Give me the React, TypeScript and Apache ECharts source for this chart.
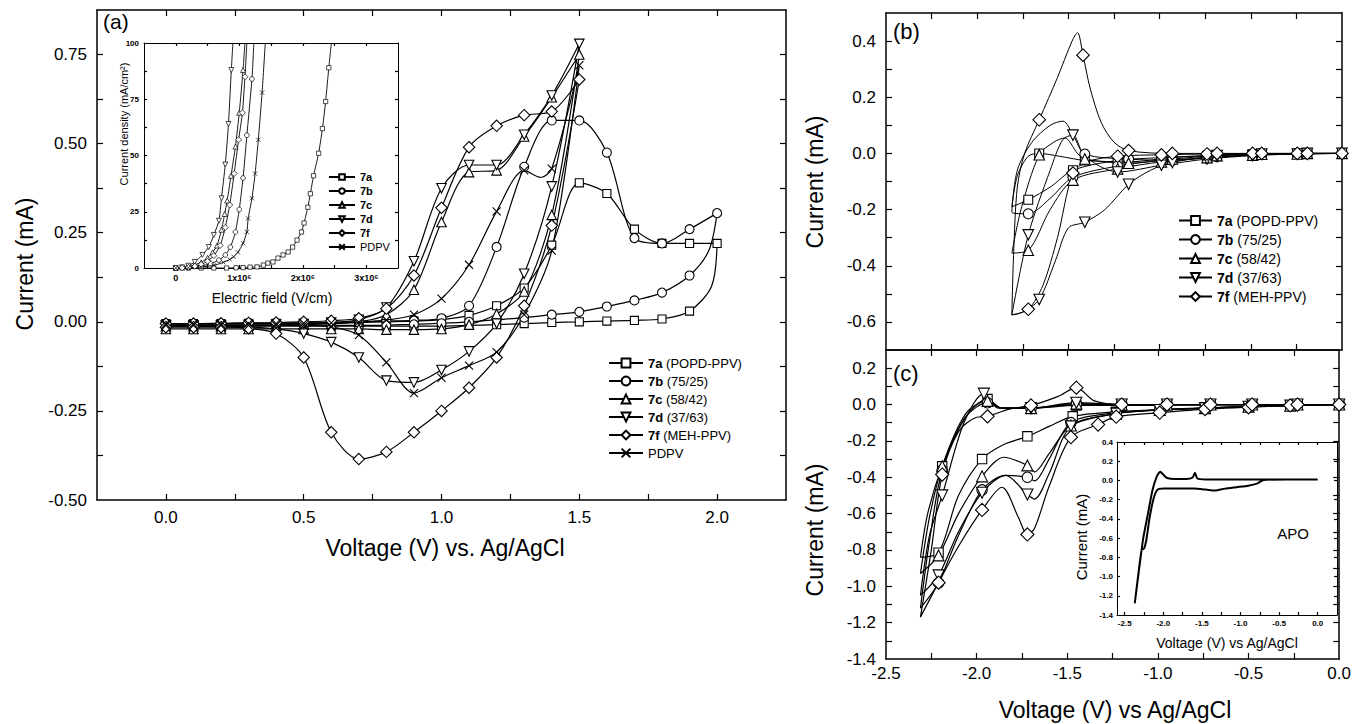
import React, { useEffect, useRef } from 'react';
import * as echarts from 'echarts';

const FONT = '"Liberation Sans", Arial, Helvetica, sans-serif';

// ---------- names ----------
const NAMES = ['7a (POPD-PPV)', '7b (75/25)', '7c (58/42)', '7d (37/63)', '7f (MEH-PPV)', 'PDPV'];
const INSET_NAMES = ['i:7a', 'i:7b', 'i:7c', 'i:7d', 'i:7f', 'i:PDPV'];

// ---------- tick values / labels ----------
const A_X_TICKS = [0, 0.25, 0.5, 0.75, 1, 1.25, 1.5, 1.75, 2];
const A_X_LABELS = [0, 0.5, 1, 1.5, 2];
const A_Y_TICKS = [-0.375, -0.25, -0.125, 0, 0.125, 0.25, 0.375, 0.5, 0.625, 0.75];
const A_Y_LABELS = [-0.5, -0.25, 0, 0.25, 0.5, 0.75];
const IA_X_TICKS = [0, 0.5, 1, 1.5, 2, 2.5, 3];
const IA_X_LABELS = [0, 1, 2, 3];
const IA_Y_TICKS = [12.5, 25, 37.5, 50, 62.5, 75, 87.5];
const IA_Y_LABELS = [0, 25, 50, 75, 100];
const BC_X_TICKS = [-2.25, -2, -1.75, -1.5, -1.25, -1, -0.75, -0.5, -0.25];
const BC_X_LABELS = [-2.5, -2, -1.5, -1, -0.5, 0];
const B_Y_TICKS = [-0.6, -0.5, -0.4, -0.3, -0.2, -0.1, 0, 0.1, 0.2, 0.3, 0.4];
const B_Y_LABELS = [-0.6, -0.4, -0.2, 0, 0.2, 0.4];
const C_Y_TICKS = [-1.3, -1.2, -1.1, -1, -0.9, -0.8, -0.7, -0.6, -0.5, -0.4, -0.3, -0.2, -0.1, 0, 0.1, 0.2];
const C_Y_LABELS = [-1.4, -1.2, -1, -0.8, -0.6, -0.4, -0.2, 0, 0.2];
const IC_X_TICKS = [-2.5, -2.25, -2, -1.75, -1.5, -1.25, -1, -0.75, -0.5, -0.25, 0];
const IC_X_LABELS = [-2.5, -2, -1.5, -1, -0.5, 0];
const IC_Y_TICKS = [-1.2, -1, -0.8, -0.6, -0.4, -0.2, 0, 0.2];
const IC_Y_LABELS = [-1.4, -1.2, -1, -0.8, -0.6, -0.4, -0.2, 0, 0.2, 0.4];

// ---------- panel (a): [V, mA] (third value 0 = no marker) ----------
const a7a = [
  [0, -0.005], [0.1, -0.005], [0.2, -0.005], [0.3, -0.004], [0.4, -0.004], [0.5, -0.004], [0.6, -0.003], [0.7, -0.002],
  [0.8, 0], [0.9, 0.002], [1.0, 0.006], [1.1, 0.018], [1.2, 0.045], [1.3, 0.095], [1.4, 0.215], [1.5, 0.39], [1.6, 0.36],
  [1.7, 0.26], [1.8, 0.22], [1.9, 0.22], [2.0, 0.22],
  [1.98, 0.1, 0], [1.9, 0.03], [1.8, 0.008], [1.7, 0.004], [1.6, 0.002], [1.5, 0], [1.4, -0.002], [1.3, -0.005], [1.2, -0.008],
  [1.1, -0.01], [1.0, -0.012], [0.9, -0.012], [0.8, -0.012], [0.7, -0.012], [0.6, -0.012], [0.5, -0.012], [0.4, -0.012],
  [0.3, -0.012], [0.2, -0.012], [0.1, -0.012], [0, -0.012],
];
const a7b = [
  [0, -0.005], [0.1, -0.005], [0.2, -0.005], [0.3, -0.004], [0.4, -0.004], [0.5, -0.003], [0.6, -0.002], [0.7, 0],
  [0.8, 0.002], [0.9, 0.004], [1.0, 0.01], [1.1, 0.045], [1.2, 0.21], [1.3, 0.435], [1.4, 0.565], [1.5, 0.565], [1.6, 0.475],
  [1.7, 0.235], [1.8, 0.22], [1.9, 0.26], [2.0, 0.305],
  [1.97, 0.2, 0], [1.9, 0.13], [1.8, 0.082], [1.7, 0.06], [1.6, 0.043], [1.5, 0.028], [1.4, 0.02], [1.3, 0.012], [1.2, 0.006],
  [1.1, 0], [1.0, -0.004], [0.9, -0.007], [0.8, -0.009], [0.7, -0.01], [0.6, -0.01], [0.5, -0.01], [0.4, -0.01], [0.3, -0.01],
  [0.2, -0.01], [0.1, -0.01], [0, -0.01],
];
const a7c = [
  [0, -0.012], [0.1, -0.012], [0.2, -0.012], [0.3, -0.011], [0.4, -0.01], [0.5, -0.008], [0.6, -0.005], [0.7, 0],
  [0.8, 0.02], [0.9, 0.09], [1.0, 0.28], [1.1, 0.42], [1.2, 0.425], [1.3, 0.52], [1.4, 0.63], [1.5, 0.75],
  [1.4, 0.3], [1.3, 0.085], [1.2, 0.022], [1.1, -0.008], [1.0, -0.02], [0.9, -0.022], [0.8, -0.022], [0.7, -0.02],
  [0.6, -0.02], [0.5, -0.02], [0.4, -0.02], [0.3, -0.02], [0.2, -0.02], [0.1, -0.02], [0, -0.02],
];
const a7d = [
  [0, -0.01], [0.1, -0.01], [0.2, -0.01], [0.3, -0.009], [0.4, -0.008], [0.5, -0.006], [0.6, -0.002], [0.7, 0.006],
  [0.8, 0.04], [0.9, 0.17], [1.0, 0.375], [1.1, 0.44], [1.2, 0.44], [1.3, 0.525], [1.4, 0.635], [1.5, 0.78],
  [1.4, 0.38], [1.3, 0.135], [1.2, -0.005], [1.1, -0.083], [1.0, -0.135], [0.9, -0.17], [0.8, -0.165], [0.7, -0.1],
  [0.6, -0.057], [0.5, -0.033], [0.4, -0.02], [0.3, -0.015], [0.2, -0.013], [0.1, -0.012], [0, -0.012],
];
const a7f = [
  [0, -0.005], [0.1, -0.005], [0.2, -0.004], [0.3, -0.003], [0.4, -0.002], [0.5, 0], [0.6, 0.003], [0.7, 0.01],
  [0.8, 0.037], [0.9, 0.13], [1.0, 0.32], [1.1, 0.49], [1.2, 0.55], [1.3, 0.58], [1.4, 0.59], [1.5, 0.68],
  [1.4, 0.27], [1.3, 0.045], [1.2, -0.1], [1.1, -0.185], [1.0, -0.25], [0.9, -0.31], [0.8, -0.365], [0.7, -0.385],
  [0.6, -0.31], [0.5, -0.1], [0.4, -0.033], [0.3, -0.018], [0.2, -0.015], [0.1, -0.015], [0, -0.015],
];
const aPDPV = [
  [0, -0.006], [0.1, -0.006], [0.2, -0.006], [0.3, -0.005], [0.4, -0.005], [0.5, -0.004], [0.6, -0.003], [0.7, -0.001],
  [0.8, 0.005], [0.9, 0.02], [1.0, 0.065], [1.1, 0.16], [1.2, 0.31], [1.3, 0.425], [1.36, 0.405, 0], [1.4, 0.43], [1.5, 0.72],
  [1.4, 0.2], [1.3, 0.02], [1.2, -0.085], [1.1, -0.123], [1.0, -0.157], [0.9, -0.2], [0.8, -0.114], [0.7, -0.037],
  [0.6, -0.014], [0.5, -0.01], [0.4, -0.01], [0.3, -0.01], [0.2, -0.01], [0.1, -0.01], [0, -0.01],
];

// ---------- inset (a): [field 1e6 V/cm, mA/cm2] ----------
const ia7a = [
  [0, 0], [0.2, 0], [0.4, 0], [0.6, 0], [0.8, 0], [0.95, 0.1], [1.06, 0.2], [1.17, 0.4], [1.28, 0.5], [1.38, 1.3], [1.45, 2.2],
  [1.53, 2.7], [1.61, 4.4], [1.69, 5.8], [1.77, 7.1], [1.84, 9.3], [1.91, 12.4], [1.98, 16], [2.02, 20], [2.08, 27],
  [2.12, 33], [2.17, 41], [2.25, 51], [2.31, 62], [2.36, 74], [2.41, 89], [2.45, 100, 0],
];
const ia7b = [
  [0, 0], [0.2, 0.2], [0.4, 0.8], [0.55, 2], [0.68, 3.5], [0.78, 5.8], [0.86, 9.3], [0.94, 16], [1.0, 26], [1.06, 40],
  [1.12, 59], [1.2, 84], [1.23, 100, 0],
];
const ia7c = [
  [0, 0], [0.1, 0.2], [0.2, 0.6], [0.3, 1.5], [0.4, 2.5], [0.5, 4.5], [0.58, 7], [0.65, 10], [0.72, 17], [0.77, 24],
  [0.81, 30], [0.87, 41], [0.94, 54], [1.0, 69], [1.06, 88], [1.09, 100, 0],
];
const ia7d = [
  [0, 0], [0.1, 0.3], [0.2, 1], [0.3, 2.7], [0.42, 5.8], [0.52, 9.3], [0.6, 14.7], [0.68, 21], [0.72, 31], [0.78, 46],
  [0.83, 64], [0.875, 88], [0.9, 100, 0],
];
const ia7f = [
  [0, 0], [0.1, 0.1], [0.2, 0.3], [0.3, 0.8], [0.4, 1.6], [0.5, 3], [0.6, 5.5], [0.7, 10], [0.78, 18], [0.85, 28],
  [0.92, 42], [0.99, 57], [1.05, 69], [1.09, 85], [1.12, 100, 0],
];
const iaPDPV = [
  [0, 0], [0.2, 0.1], [0.4, 0.4], [0.6, 1.2], [0.75, 2.5], [0.85, 3.8], [0.91, 5], [0.98, 7], [1.06, 11], [1.12, 16],
  [1.14, 22], [1.2, 31], [1.25, 42], [1.3, 57], [1.36, 78], [1.41, 100, 0],
];

// ---------- panel (b): [V, mA] ----------
const b7a = [
  [0, 0], [-0.245, 0], [-0.49, -0.003], [-0.74, -0.008], [-0.99, -0.015], [-1.23, -0.025], [-1.475, -0.06], [-1.6, -0.12, 0],
  [-1.72, -0.165], [-1.81, -0.19, 0],
  [-1.78, -0.08, 0], [-1.72, -0.01, 0], [-1.66, 0], [-1.55, -0.01, 0], [-1.41, -0.025], [-1.17, -0.03], [-0.93, -0.015],
  [-0.685, -0.006], [-0.44, -0.002], [-0.19, 0], [0, 0, 0],
];
const b7b = [
  [0, 0], [-0.245, -0.002], [-0.49, -0.005], [-0.74, -0.017], [-0.99, -0.025], [-1.23, -0.045], [-1.475, -0.085],
  [-1.6, -0.16, 0], [-1.72, -0.215], [-1.81, -0.21, 0],
  [-1.78, -0.06, 0], [-1.7, 0.04, 0], [-1.6, 0.1, 0], [-1.53, 0.115, 0], [-1.47, 0.06, 0], [-1.41, -0.002], [-1.17, -0.02],
  [-0.93, -0.025], [-0.685, -0.012], [-0.44, -0.004], [-0.19, 0], [0, 0, 0],
];
const b7c = [
  [0, 0], [-0.245, -0.002], [-0.49, -0.006], [-0.74, -0.015], [-0.99, -0.03], [-1.23, -0.055], [-1.475, -0.095],
  [-1.6, -0.2, 0], [-1.72, -0.345], [-1.81, -0.355, 0],
  [-1.76, -0.2, 0], [-1.66, -0.005], [-1.58, 0.04, 0], [-1.52, 0.055, 0], [-1.45, 0, 0], [-1.41, -0.02], [-1.17, -0.035],
  [-0.93, -0.02], [-0.685, -0.008], [-0.44, -0.003], [-0.19, 0], [0, 0, 0],
];
const b7d = [
  [0, 0], [-0.19, 0], [-0.44, -0.002], [-0.685, -0.008], [-0.93, -0.032], [-1.05, -0.06, 0], [-1.17, -0.11], [-1.3, -0.2, 0],
  [-1.41, -0.245], [-1.5, -0.265, 0], [-1.57, -0.38, 0], [-1.66, -0.52], [-1.75, -0.565, 0], [-1.81, -0.575, 0],
  [-1.72, -0.29], [-1.6, -0.06, 0], [-1.53, 0.05, 0], [-1.475, 0.065], [-1.42, 0, 0], [-1.33, -0.045, 0], [-1.23, -0.066],
  [-0.99, -0.042], [-0.74, -0.02], [-0.49, -0.008], [-0.245, -0.002], [0, 0, 0],
];
const b7f = [
  [0, 0], [-0.245, 0], [-0.49, 0], [-0.74, -0.002], [-0.99, -0.005], [-1.23, -0.01], [-1.4, -0.03, 0], [-1.475, -0.07],
  [-1.56, -0.3, 0], [-1.64, -0.47, 0], [-1.72, -0.555], [-1.81, -0.575, 0],
  [-1.8, -0.35, 0], [-1.78, -0.12, 0], [-1.74, 0, 0], [-1.66, 0.12], [-1.56, 0.27, 0], [-1.48, 0.4, 0], [-1.45, 0.43, 0],
  [-1.42, 0.35], [-1.38, 0.23, 0], [-1.32, 0.11, 0], [-1.25, 0.04, 0], [-1.17, 0.01], [-0.93, 0], [-0.685, 0], [-0.44, 0],
  [-0.19, 0], [0, 0, 0],
];

// ---------- panel (c): [V, mA] ----------
const c7a = [
  [0, 0], [-0.27, -0.005], [-0.5, -0.01], [-0.74, -0.018], [-0.99, -0.028], [-1.23, -0.04], [-1.47, -0.065], [-1.6, -0.12, 0],
  [-1.72, -0.175], [-1.85, -0.22, 0], [-1.97, -0.3], [-2.1, -0.5, 0], [-2.21, -0.815], [-2.31, -0.84, 0],
  [-2.27, -0.6, 0], [-2.19, -0.34], [-2.07, -0.08, 0], [-1.94, 0.03], [-1.86, -0.02, 0], [-1.7, -0.02], [-1.45, -0.005],
  [-1.2, -0.005], [-0.95, -0.003], [-0.71, 0], [-0.48, 0], [-0.23, 0], [0, 0, 0],
];
const c7b = [
  [0, 0], [-0.27, -0.006], [-0.5, -0.012], [-0.74, -0.02], [-0.99, -0.03], [-1.23, -0.045], [-1.48, -0.1], [-1.6, -0.3, 0],
  [-1.68, -0.42, 0], [-1.72, -0.4], [-1.84, -0.39, 0], [-1.97, -0.47], [-2.1, -0.72, 0], [-2.21, -0.98], [-2.31, -1.12, 0],
  [-2.26, -0.75, 0], [-2.19, -0.36], [-2.06, -0.07, 0], [-1.94, 0.01], [-1.86, -0.02, 0], [-1.7, -0.02], [-1.45, 0],
  [-1.2, 0], [-0.95, 0], [-0.71, 0], [-0.48, 0], [-0.23, 0], [0, 0, 0],
];
const c7c = [
  [0, 0], [-0.27, -0.006], [-0.5, -0.012], [-0.74, -0.02], [-0.99, -0.03], [-1.23, -0.05], [-1.48, -0.115], [-1.6, -0.27, 0],
  [-1.68, -0.37, 0], [-1.72, -0.335], [-1.85, -0.29, 0], [-1.97, -0.395], [-2.1, -0.6, 0], [-2.21, -0.83], [-2.31, -0.93, 0],
  [-2.26, -0.62, 0], [-2.19, -0.34], [-2.06, -0.05, 0], [-1.94, 0.02], [-1.86, -0.02, 0], [-1.7, -0.02], [-1.45, 0.005],
  [-1.2, 0], [-0.95, 0], [-0.71, 0], [-0.48, 0], [-0.23, 0], [0, 0, 0],
];
const c7d = [
  [0, 0], [-0.27, -0.006], [-0.5, -0.012], [-0.74, -0.02], [-0.99, -0.03], [-1.23, -0.05], [-1.48, -0.12], [-1.6, -0.38, 0],
  [-1.68, -0.52, 0], [-1.72, -0.495], [-1.84, -0.39, 0], [-1.97, -0.485], [-2.1, -0.7, 0], [-2.21, -0.94], [-2.31, -1.05, 0],
  [-2.26, -0.72, 0], [-2.19, -0.5], [-2.07, -0.1, 0], [-1.96, 0.06], [-1.88, -0.02, 0], [-1.7, -0.02], [-1.45, 0.01],
  [-1.2, 0], [-0.95, 0], [-0.71, 0], [-0.48, 0], [-0.23, 0], [0, 0, 0],
];
const c7f = [
  [0, 0], [-0.27, -0.005], [-0.5, -0.015], [-0.74, -0.025], [-0.99, -0.045], [-1.23, -0.067], [-1.33, -0.11], [-1.48, -0.18],
  [-1.6, -0.45, 0], [-1.68, -0.68, 0], [-1.72, -0.715], [-1.77, -0.62, 0], [-1.86, -0.455, 0], [-1.97, -0.58],
  [-2.1, -0.78, 0], [-2.21, -0.98], [-2.31, -1.17, 0],
  [-2.25, -0.8, 0], [-2.19, -0.385], [-2.1, -0.15, 0], [-2.0, -0.07, 0], [-1.94, -0.065], [-1.82, -0.025, 0], [-1.7, -0.005],
  [-1.55, 0.045, 0], [-1.45, 0.093], [-1.35, 0.02, 0], [-1.2, 0], [-0.95, 0], [-0.71, 0], [-0.48, 0], [-0.23, 0], [0, 0, 0],
];

// ---------- inset (c): APO ----------
const icAPO = [
  [0, 0.01], [-0.4, 0.01], [-0.7, 0.005], [-0.78, -0.03], [-0.9, -0.055], [-1.05, -0.07], [-1.2, -0.085], [-1.33, -0.105],
  [-1.45, -0.095], [-1.6, -0.085], [-1.8, -0.085], [-2.0, -0.085], [-2.08, -0.1], [-2.13, -0.2], [-2.18, -0.4],
  [-2.22, -0.62], [-2.25, -0.71], [-2.28, -0.72], [-2.32, -0.95], [-2.37, -1.28], [-2.31, -0.9], [-2.26, -0.6],
  [-2.2, -0.35], [-2.14, -0.1], [-2.08, 0.05], [-2.04, 0.09], [-2.0, 0.06], [-1.95, 0.025], [-1.85, 0.015], [-1.7, 0.015],
  [-1.62, 0.03], [-1.59, 0.08], [-1.56, 0.02], [-1.45, 0.01], [-1.0, 0.01], [-0.5, 0.01], [0, 0.01],
];

const A_DATA = [a7a, a7b, a7c, a7d, a7f, aPDPV];
const IA_DATA = [ia7a, ia7b, ia7c, ia7d, ia7f, iaPDPV];
const B_DATA = [b7a, b7b, b7c, b7d, b7f];
const C_DATA = [c7a, c7b, c7c, c7d, c7f];

const SYMS = [
  { symbol: 'rect', rotate: 0, k: 0.85 },
  { symbol: 'circle', rotate: 0, k: 0.95 },
  { symbol: 'triangle', rotate: 0, k: 1 },
  { symbol: 'triangle', rotate: 180, k: 1 },
  { symbol: 'diamond', rotate: 0, k: 1.2 },
  { symbol: 'path://M0,0L10,10M10,0L0,10', rotate: 0, k: 0.85 },
];

const fix = (v: number, d: number) => {
  const r = Number(v.toFixed(6));
  return (r === 0 ? 0 : r).toFixed(d);
};

function buildOption() {
  const grid: any[] = [];
  const xAxis: any[] = [];
  const yAxis: any[] = [];
  const series: any[] = [];

  const mkAxis = (gridIndex: number, position: string, s: any, labels: boolean) => ({
    type: 'value',
    gridIndex,
    position,
    min: s.min,
    max: s.max,
    axisLine: { show: true, onZero: false, lineStyle: { color: '#000', width: s.lw ?? 1.5 } },
    axisTick: { show: true, inside: true, length: s.tick, customValues: s.ticks, lineStyle: { color: '#000', width: 1.2 } },
    axisLabel: {
      show: labels && !!s.labels,
      customValues: s.labels,
      formatter: s.fmt,
      fontSize: s.fs,
      fontWeight: s.bold ? 'bold' : 'normal',
      fontFamily: FONT,
      color: '#000',
      margin: s.margin,
    },
    splitLine: { show: false },
  });

  const addPanel = (rect: number[], xs: any, ys: any) => {
    const gi = grid.length;
    grid.push({ left: rect[0], top: rect[1], width: rect[2], height: rect[3], containLabel: false });
    const xi = xAxis.length;
    xAxis.push(mkAxis(gi, 'bottom', xs, true));
    xAxis.push(mkAxis(gi, 'top', xs, false));
    const yi = yAxis.length;
    yAxis.push(mkAxis(gi, 'left', ys, true));
    yAxis.push(mkAxis(gi, 'right', ys, false));
    return { xi, yi };
  };

  const PA = addPanel([97, 10, 689, 490],
    { min: -0.25, max: 2.25, ticks: A_X_TICKS, labels: A_X_LABELS, fmt: (v: number) => fix(v, 1), fs: 17, margin: 9, tick: 6 },
    { min: -0.5, max: 0.875, ticks: A_Y_TICKS, labels: A_Y_LABELS, fmt: (v: number) => fix(v, 2), fs: 17, margin: 10, tick: 6 });
  const PIA = addPanel([144, 43, 254, 225],
    { min: -0.5, max: 3.5, ticks: IA_X_TICKS, labels: IA_X_LABELS, fmt: (v: number) => (Math.round(v) === 0 ? '0' : `${Math.round(v)}x10⁶`), fs: 9, bold: true, margin: 5, tick: 3, lw: 1 },
    { min: 0, max: 100, ticks: IA_Y_TICKS, labels: IA_Y_LABELS, fmt: (v: number) => String(Math.round(v)), fs: 8, bold: true, margin: 5, tick: 3, lw: 1 });
  const PB = addPanel([886, 13, 456, 337],
    { min: -2.5, max: 0, ticks: BC_X_TICKS, labels: null, fs: 17, margin: 5, tick: 6 },
    { min: -0.7, max: 0.5, ticks: B_Y_TICKS, labels: B_Y_LABELS, fmt: (v: number) => fix(v, 1), fs: 17, margin: 10, tick: 6 });
  const PC = addPanel([886, 350, 456, 309],
    { min: -2.5, max: 0, ticks: BC_X_TICKS, labels: BC_X_LABELS, fmt: (v: number) => fix(v, 1), fs: 17, margin: 6, tick: 6 },
    { min: -1.4, max: 0.3, ticks: C_Y_TICKS, labels: C_Y_LABELS, fmt: (v: number) => fix(v, 1), fs: 17, margin: 10, tick: 6 });
  const PIC = addPanel([1117, 442, 220, 173],
    { min: -2.6, max: 0.25, ticks: IC_X_TICKS, labels: IC_X_LABELS, fmt: (v: number) => fix(v, 1), fs: 8, bold: true, margin: 4, tick: 3, lw: 1 },
    { min: -1.4, max: 0.4, ticks: IC_Y_TICKS, labels: IC_Y_LABELS, fmt: (v: number) => fix(v, 1), fs: 8, bold: true, margin: 4, tick: 3, lw: 1 });

  const curve = (name: string, pts: number[][], p: any, sym: any, size: number, lw: number, smooth: number, bw = 1.1) => ({
    type: 'line',
    name,
    xAxisIndex: p.xi,
    yAxisIndex: p.yi,
    data: pts.map((q) => (q.length > 2 && q[2] === 0 ? { value: [q[0], q[1]], symbol: 'none' } : [q[0], q[1]])),
    symbol: sym.symbol,
    symbolRotate: sym.rotate,
    symbolSize: size * sym.k,
    showSymbol: true,
    showAllSymbol: true,
    smooth,
    lineStyle: { color: '#000', width: lw },
    itemStyle: { color: '#fff', borderColor: '#000', borderWidth: bw },
    emphasis: { disabled: true },
    silent: true,
    z: 3,
  });

  NAMES.forEach((n, i) => series.push(curve(n, A_DATA[i], PA, SYMS[i], 9.5, 1.2, 0.3)));
  INSET_NAMES.forEach((n, i) => series.push(curve(n, IA_DATA[i], PIA, SYMS[i], 5, 0.9, 0.2, 0.7)));
  NAMES.slice(0, 5).forEach((n, i) => series.push(curve(n, B_DATA[i], PB, SYMS[i], 10.5, 1.0, 0.3)));
  NAMES.slice(0, 5).forEach((n, i) => series.push(curve(n, C_DATA[i], PC, SYMS[i], 11, 1.2, 0.3)));
  series.push({
    type: 'line', name: 'APO', xAxisIndex: PIC.xi, yAxisIndex: PIC.yi, data: icAPO, symbol: 'none', smooth: 0.2,
    lineStyle: { color: '#000', width: 2 }, emphasis: { disabled: true }, silent: true, z: 3,
  });

  const legendFmt = (name: string) => {
    const n = name.replace(/^i:/, '');
    const m = n.match(/^(7[a-f])(.*)$/);
    return m ? `{b|${m[1]}}${m[2]}` : n;
  };
  const mkLegend = (data: string[], left: number, top: number, fs: number, iw: number, ih: number, gap: number, lh: number) => ({
    data,
    left,
    top,
    orient: 'vertical',
    padding: 0,
    itemWidth: iw,
    itemHeight: ih,
    itemGap: gap,
    selectedMode: false,
    formatter: legendFmt,
    textStyle: {
      fontSize: fs, fontFamily: FONT, color: '#000', lineHeight: lh,
      rich: { b: { fontSize: fs, fontFamily: FONT, fontWeight: 'bold', color: '#000', lineHeight: lh } },
    },
  });

  const txt = (text: string, x: number, y: number, fs: number, rot = 0, align = 'center') => ({
    type: 'text', x, y, rotation: rot, silent: true,
    style: { text, fontSize: fs, fontFamily: FONT, fill: '#000', align, verticalAlign: 'middle' },
  });

  return {
    animation: false,
    backgroundColor: '#fff',
    grid,
    xAxis,
    yAxis,
    series,
    legend: [
      mkLegend(NAMES, 608, 356, 13, 34, 11, 4, 14),
      mkLegend(NAMES.slice(0, 5), 1178, 213, 14, 33, 11, 4, 15),
      mkLegend(INSET_NAMES, 328, 171, 11, 26, 7, 2, 12),
    ],
    graphic: [
      txt('(a)', 103, 21, 21, 0, 'left'),
      txt('(b)', 893, 31, 22, 0, 'left'),
      txt('(c)', 893, 373, 22, 0, 'left'),
      txt('Current (mA)', 25, 264, 23, Math.PI / 2),
      txt('Voltage (V) vs. Ag/AgCl', 445, 548, 23),
      txt('Current (mA)', 815, 182, 23, Math.PI / 2),
      txt('Current (mA)', 815, 530, 23, Math.PI / 2),
      txt('Voltage (V) vs Ag/AgCl', 1115, 710, 23),
      txt('Current density (mA/cm²)', 124, 124, 11, Math.PI / 2),
      txt('Electric field (V/cm)', 272, 298, 14),
      txt('Current (mA)', 1081, 537, 15, Math.PI / 2),
      txt('Voltage (V) vs Ag/AgCl', 1227, 643, 14),
      txt('APO', 1293, 533, 15),
    ],
  };
}

export default function App() {
  const ref = useRef<HTMLDivElement>(null);
  useEffect(() => {
    if (!ref.current) return;
    const chart = echarts.init(ref.current, null, { renderer: 'svg' });
    chart.setOption(buildOption() as any);
    return () => chart.dispose();
  }, []);
  return <div ref={ref} style={{ position: 'fixed', left: 0, top: 0, width: 1354, height: 724, background: '#fff' }} />;
}
